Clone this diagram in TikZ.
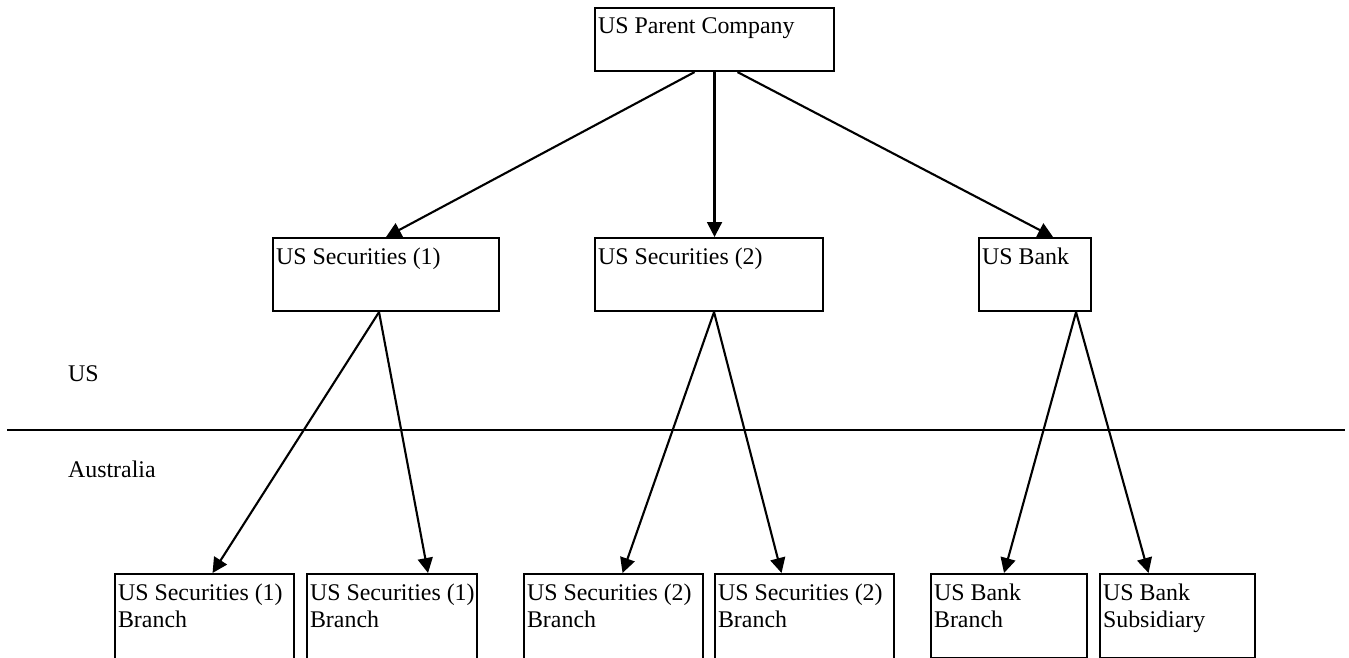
\documentclass[tikz,border=0pt]{standalone}
\usepackage{fontspec}
\setmainfont{Liberation Serif}
\usepackage{tikz}
\usetikzlibrary{arrows.meta,calc,positioning}

\begin{document}
\begin{tikzpicture}[x=0.02cm, y=-0.02cm, line width=1.2pt,
  every node/.style = {font=\fontsize{13.6}{15.3}\selectfont},
  orgbox/.style = {shape=rectangle, draw, anchor=north west, inner sep=0pt},
  boxtext/.style = {anchor=north west, align=left, draw=none,
    inner xsep=0.06cm, inner ysep=0.2cm},
  arr/.style = {-{Triangle[length=0.3cm,width=0.3cm]}}]
  \useasboundingbox (0,0) rectangle (1349,658);

  % top level
  \node[orgbox, minimum width=4.78cm, minimum height=1.26cm,
    label={[boxtext]north west:US Parent Company}] (parent) at (594,7) {};

  % US entities
  \node[orgbox, minimum width=4.52cm, minimum height=1.46cm,
    label={[boxtext]north west:US Securities (1)}] (sec1) at (272,237) {};
  \node[orgbox, minimum width=4.56cm, minimum height=1.46cm,
    label={[boxtext]north west:US Securities (2)}] (sec2) at (594,237) {};
  \node[orgbox, minimum width=2.24cm, minimum height=1.46cm,
    label={[boxtext]north west:US Bank}] (bank) at (978,237) {};

  % country border
  \coordinate (border west) at (7,430);
  \coordinate (border east) at (1345,430);
  \draw (border west) -- (border east);
  \node[anchor=base west, inner sep=0pt] (us) at (67,382) {US};
  \node[anchor=base west, inner sep=0pt] (aus) at (67,478) {Australia};

  % Australian entities
  \node[orgbox, minimum width=3.58cm, minimum height=1.9cm,
    label={[boxtext]north west:US Securities (1)\\Branch}] (branch1) at (114,573) {};
  \node[orgbox, minimum width=3.4cm, minimum height=1.9cm,
    label={[boxtext]north west:US Securities (1)\\Branch}] (branch2) at (306,573) {};
  \node[orgbox, minimum width=3.58cm, minimum height=1.9cm,
    label={[boxtext]north west:US Securities (2)\\Branch}] (branch3) at (523,573) {};
  \node[orgbox, minimum width=3.58cm, minimum height=1.9cm,
    label={[boxtext]north west:US Securities (2)\\Branch}] (branch4) at (714,573) {};
  \node[orgbox, minimum width=3.12cm, minimum height=1.68cm,
    label={[boxtext]north west:US Bank\\Branch}] (bankbranch) at (930,573) {};
  \node[orgbox, minimum width=3.1cm, minimum height=1.68cm,
    label={[boxtext]north west:US Bank\\Subsidiary}] (banksub) at (1099,573) {};

  % ownership
  \draw[arr] ($(parent.south)+(-20,0)$) -- (sec1.north);
  \draw[arr] (parent.south) -- (parent.south |- sec2.north);
  \draw[arr] ($(parent.south)+(23,0)$) -- ($(bank.north)+(18,0)$);

  \draw[arr] ($(sec1.south)+(-7,0)$) -- ($(branch1.north)+(8,0)$);
  \draw[arr] ($(sec1.south)+(-7,0)$) -- ($(branch2.north)+(36,0)$);
  \draw[arr] ($(sec2.south)+(5,0)$) -- ($(branch3.north)+(9,0)$);
  \draw[arr] ($(sec2.south)+(5,0)$) -- ($(branch4.north)+(-23,0)$);
  \draw[arr] ($(bank.south)+(41,0)$) -- ($(bankbranch.north)+(-5,0)$);
  \draw[arr] ($(bank.south)+(41,0)$) -- ($(banksub.north)+(-29,0)$);
\end{tikzpicture}
\end{document}
